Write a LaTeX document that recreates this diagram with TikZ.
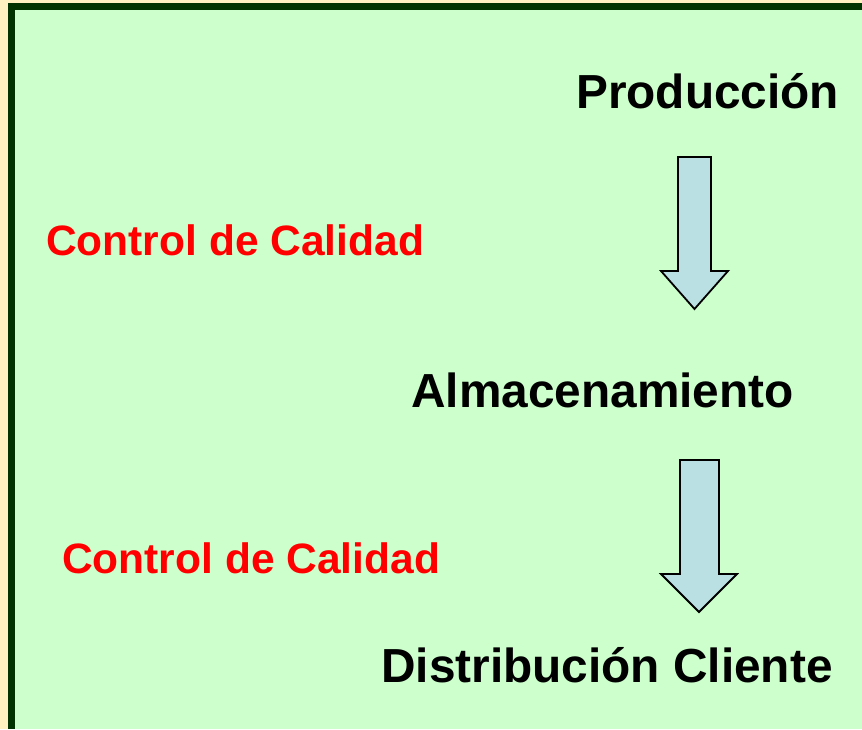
\documentclass[tikz,border=0pt]{standalone}
\usepackage{fontspec}
\setmainfont{Liberation Sans}
\usepackage{xcolor}
\usepackage{tikz}
\usetikzlibrary{positioning}
\definecolor{fondo}{RGB}{204, 255, 204}
\definecolor{marco}{RGB}{0, 51, 0}
\definecolor{crema}{RGB}{255, 242, 192}
\definecolor{celeste}{RGB}{187, 224, 227}
\definecolor{rojo}{RGB}{255, 0, 0}

\begin{document}
\begin{tikzpicture}[x=1pt, y=-1pt,
  paso/.style={anchor=base west, inner sep=0pt, text=black,
    font=\bfseries\fontsize{47.8}{56}\selectfont},
  control/.style={anchor=base west, inner sep=0pt, text=rojo,
    font=\bfseries\fontsize{42.5}{50}\selectfont},
  flecha/.style={fill=celeste, draw=black, line width=1.8pt, line join=miter}]

  \useasboundingbox (0,0) rectangle (862,729);

  % --- background and frame ---
  \fill[crema] (0,0) rectangle (862,729);
  \fill[marco] (8,3) rectangle (862,729);
  \fill[fondo] (14.5,10) rectangle (862,729);

  % --- process steps ---
  \node[paso] (prod)  at (576,108) {Producción};
  \node[paso] (almac) at (411,407) {Almacenamiento};
  \node[paso] (distr) at (381,682) {Distribución Cliente};

  % --- quality control labels ---
  \node[control] (ctrlA) at (46,255) {Control de Calidad};
  \node[control] (ctrlB) at (62,573) {Control de Calidad};

  % --- block arrows ---
  \draw[flecha] (678,157) -- (711,157) -- (711,271) -- (728,271)
    -- (694.5,309) -- (661,271) -- (678,271) -- cycle;
  \draw[flecha] (680,460) -- (719,460) -- (719,574) -- (737,574)
    -- (699,612) -- (661,574) -- (680,574) -- cycle;

\end{tikzpicture}
\end{document}
